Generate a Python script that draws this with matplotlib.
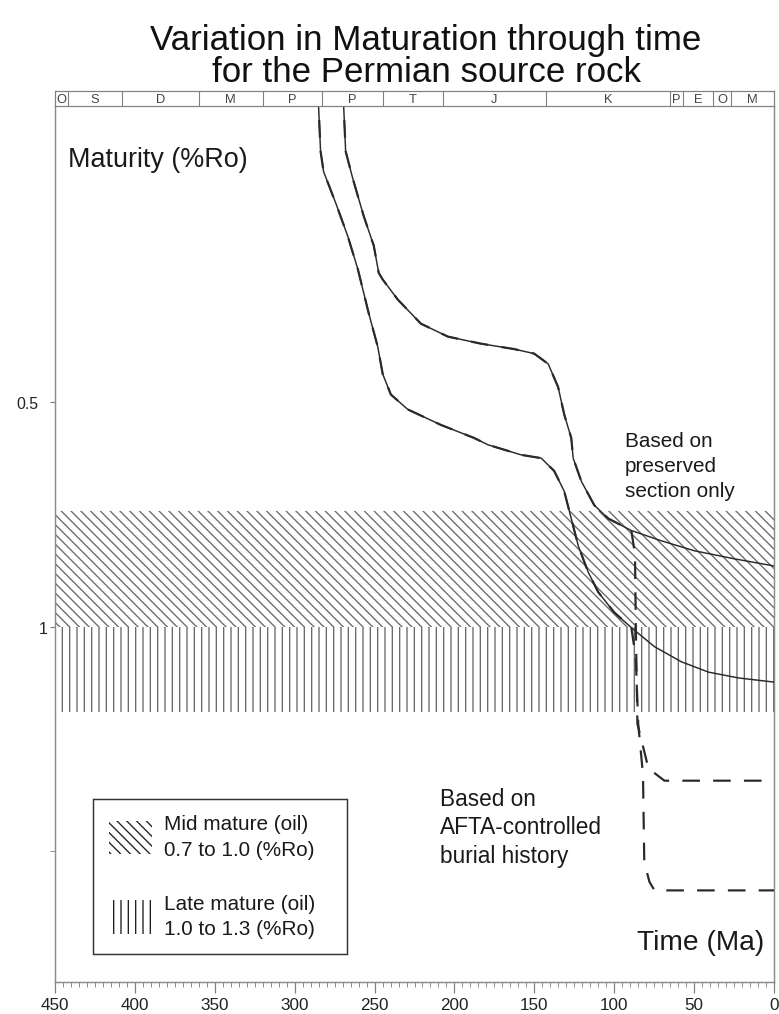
import matplotlib
matplotlib.use('Agg')
import matplotlib.pyplot as plt
from matplotlib.patches import Patch

plt.rcParams['font.family'] = ['Liberation Sans', 'DejaVu Sans']
plt.rcParams['hatch.linewidth'] = 1.1

DPI = 88

# maturity history: time (Ma) and vitrinite reflectance (%Ro)
# curve a = deeper / more mature history, curve b = shallower history
time_a = [286, 285.0, 283.8, 281.9, 274.3, 266.8, 260.5, 253.6, 248.0, 244.9, 239.8,
          229.2, 208.5, 187.8, 179.0, 158.3, 145.7, 137.6, 131.3, 126.9, 122.5,
          116.3, 110.0, 100.0, 89.3, 74.8, 57.9, 41.0, 22.1, 0]
ro_a = [0.19, 0.201, 0.230, 0.245, 0.270, 0.299, 0.331, 0.380, 0.421, 0.458, 0.488,
        0.511, 0.536, 0.558, 0.570, 0.588, 0.594, 0.618, 0.658, 0.716, 0.779,
        0.845, 0.899, 0.957, 1.003, 1.064, 1.115, 1.151, 1.172, 1.187]

time_b = [270, 269.3, 268.1, 263.7, 256.8, 250.5, 247.4, 244.9, 235.4, 221.0, 204.1,
          183.4, 162.7, 150.1, 141.3, 135.1, 131.3, 126.9, 125.7, 120.6, 112.5,
          103.7, 89.3, 70.5, 49.8, 24.7, 0]
ro_b = [0.19, 0.201, 0.230, 0.250, 0.281, 0.308, 0.335, 0.342, 0.364, 0.392, 0.408,
        0.417, 0.424, 0.430, 0.444, 0.477, 0.519, 0.558, 0.594, 0.638, 0.687,
        0.716, 0.743, 0.767, 0.791, 0.811, 0.829]

# AFTA-controlled histories: same as above until ~89 Ma, then rapid heating
jump_a_time = [86.5, 85.0, 82.0, 81.2, 78.0, 74.8, 0]
jump_a_ro = [1.10, 1.35, 1.58, 2.07, 2.20, 2.26, 2.26]
jump_b_time = [87.0, 86.5, 85.5, 78.6, 68.6, 0]
jump_b_ro = [0.80, 1.00, 1.35, 1.55, 1.61, 1.61]

# maturity windows (%Ro)
mid_mature = (0.7, 1.0)
late_mature = (1.0, 1.3)

# geological periods along the top (Ma boundaries)
period_labels = ['O', 'S', 'D', 'M', 'P', 'P', 'T', 'J', 'K', 'P', 'E', 'O', 'M']
period_edges = [450, 442, 408, 360, 320, 283, 245, 207, 143, 65, 57, 38, 27, 0]

x_ticks = list(range(0, 451, 50))
y_ticks = [0.5, 1]
y_ticklabels = ['0.5', '1']


def until(times, values, t_stop):
    pairs = [(t, v) for t, v in zip(times, values) if t >= t_stop]
    return [p[0] for p in pairs], [p[1] for p in pairs]


fig = plt.figure(figsize=(779 / DPI, 1015 / DPI), dpi=DPI)
ax = fig.add_axes([0.0706, 0.0315, 0.9230, 0.8631])
bar = fig.add_axes([0.0706, 0.8946, 0.9230, 0.0148])

hatch_grey = '0.42'
ax.axhspan(*mid_mature, facecolor='none', edgecolor=hatch_grey, hatch='\\\\\\', lw=0, zorder=1)
ax.axhspan(*late_mature, facecolor='none', edgecolor=hatch_grey, hatch='||', lw=0, zorder=1)

line_col = '#2a2a2a'
ax.plot(time_a, ro_a, color=line_col, lw=1.2, zorder=3)
ax.plot(time_b, ro_b, color=line_col, lw=1.2, zorder=3)

ta, ra = until(time_a, ro_a, 89)
tb, rb = until(time_b, ro_b, 89)
ax.plot(ta + jump_a_time, ra + jump_a_ro, color=line_col, lw=1.8,
        dashes=(8, 6), zorder=4)
ax.plot(tb + jump_b_time, rb + jump_b_ro, color=line_col, lw=1.8,
        dashes=(8, 6), dash_capstyle='butt', zorder=4)

ax.set_yscale('log')
ax.set_ylim(3, 0.2)
ax.set_xlim(450, 0)

ax.set_yticks(y_ticks)
ax.set_yticklabels(y_ticklabels)
ax.set_yticks([2], minor=True)
ax.yaxis.set_minor_formatter(plt.NullFormatter())
ax.set_xticks(x_ticks)
ax.set_xticks(list(range(0, 451, 5)), minor=True)

ax.tick_params(axis='x', which='major', length=9, width=1, color='0.5',
               labelsize=14, labelcolor='#222', pad=3)
ax.tick_params(axis='x', which='minor', length=4, width=0.8, color='0.55')
ax.tick_params(axis='y', which='major', length=4, width=1, color='0.5',
               labelsize=13, labelcolor='#222', pad=10)
ax.tick_params(axis='y', which='minor', length=4, width=0.8, color='0.55')
# the 1 %Ro tick is drawn longer than the others
long_tick = ax.yaxis.get_major_ticks()[1]
long_tick.tick1line.set_markersize(13)
long_tick.set_pad(2)

for side in ['left', 'right', 'bottom']:
    ax.spines[side].set_color('0.55')
    ax.spines[side].set_linewidth(1.2)
ax.spines['top'].set_visible(False)

# period bar
bar.set_xlim(450, 0)
bar.set_ylim(0, 1)
bar.set_xticks([])
bar.set_yticks([])
for s in bar.spines.values():
    s.set_color('0.5')
    s.set_linewidth(1.0)
for e in period_edges[1:-1]:
    bar.axvline(e, color='0.5', lw=0.9)
for lab, e0, e1 in zip(period_labels, period_edges[:-1], period_edges[1:]):
    bar.text((e0 + e1) / 2, 0.45, lab, ha='center', va='center', fontsize=10.5, color='#444')

# titles and annotations
fig.text(0.547, 0.960, 'Variation in Maturation through time', ha='center', va='center',
         fontsize=28.5, color='#111')
fig.text(0.547, 0.929, 'for the Permian source rock', ha='center', va='center',
         fontsize=28.5, color='#111')

ax.text(0.018, 0.9395, 'Maturity (%Ro)', transform=ax.transAxes, ha='left', va='center',
        fontsize=22, color='#1a1a1a')
ax.text(0.793, 0.590, 'Based on\npreserved\nsection only', transform=ax.transAxes,
        ha='left', va='center', fontsize=17, linespacing=1.4, color='#1a1a1a')
ax.text(0.535, 0.177, 'Based on\nAFTA-controlled\nburial history', transform=ax.transAxes,
        ha='left', va='center', fontsize=18.5, linespacing=1.33, color='#1a1a1a')
ax.text(0.987, 0.0457, 'Time (Ma)', transform=ax.transAxes, ha='right', va='center',
        fontsize=23, color='#1a1a1a')

handles = [Patch(facecolor='none', edgecolor='#222', hatch='\\\\\\', lw=0),
           Patch(facecolor='none', edgecolor='#222', hatch='||', lw=0)]
labels = ['Mid mature (oil)\n0.7 to 1.0 (%Ro)', 'Late mature (oil)\n1.0 to 1.3 (%Ro)']
leg = ax.legend(handles, labels, loc='lower left', mode='expand',
                bbox_to_anchor=(0.0529, 0.032, 0.353, 0.18),
                borderaxespad=0, fontsize=17, handlelength=2.1, handleheight=2.1,
                handletextpad=0.55, labelspacing=1.7, borderpad=0.75, fancybox=False,
                framealpha=1, edgecolor='#333')
leg.get_frame().set_linewidth(1.2)
for t in leg.get_texts():
    t.set_color('#1a1a1a')
    t.set_linespacing(1.42)

fig.savefig('out.png', dpi=DPI)
